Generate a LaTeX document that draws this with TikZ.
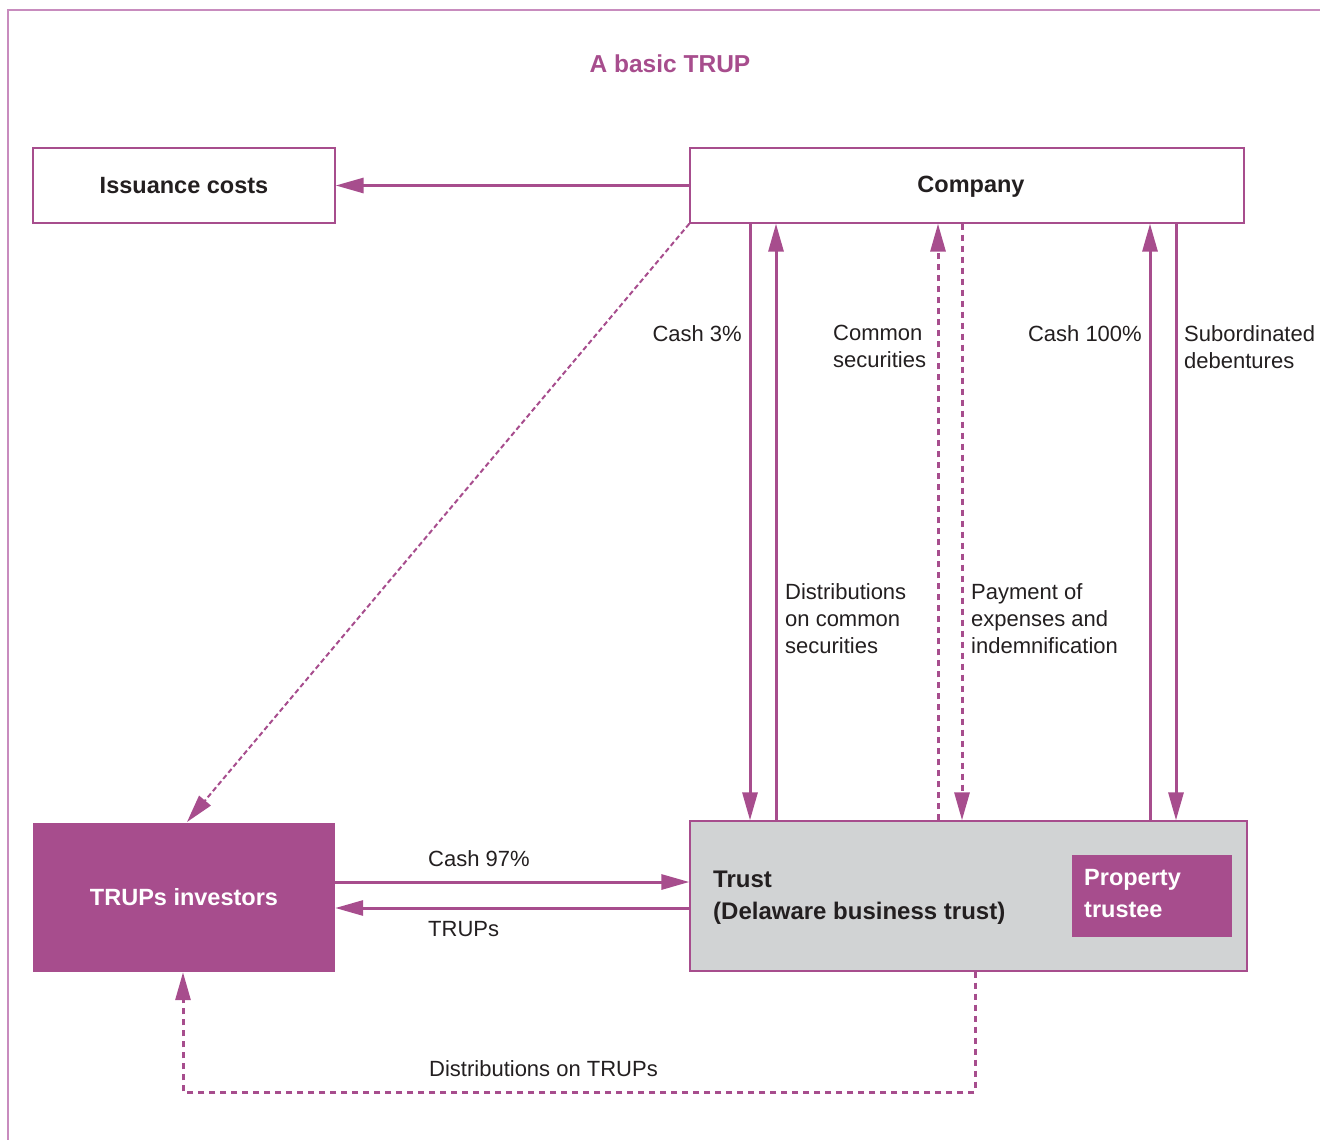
\documentclass[tikz,border=0pt]{standalone}
\usepackage{fontspec}
\setmainfont{Liberation Sans}
\usetikzlibrary{arrows.meta}
\definecolor{plum}{RGB}{167,77,141}
\definecolor{framec}{RGB}{200,140,190}
\definecolor{trustgray}{RGB}{209,211,212}
\definecolor{ink}{RGB}{35,31,32}
\tikzset{
  every node/.style={inner sep=0pt, text=ink},
  lbl/.style={font=\fontsize{22}{27}\selectfont, align=left},
  whitebox/.style={draw=plum, line width=1.3pt, fill=white, font=\bfseries\fontsize{23.5}{28}\selectfont},
  flow/.style={draw=plum, line width=3pt, -{Triangle[length=28pt,width=15pt]}},
  dflow/.style={flow, dash pattern=on 6pt off 5pt},
  diag/.style={draw=plum, line width=2pt, dash pattern=on 5pt off 3pt, -{Triangle[length=28pt,width=15pt]}},
}
\begin{document}
\begin{tikzpicture}[x=1pt,y=-1pt]
\useasboundingbox (0,0) rectangle (1320,1140);
% frame
\draw[framec, line width=2pt] (8,1140) -- (8,10) -- (1320,10);
% title
\node (title) at (670,64) {\textcolor{plum}{\bfseries\fontsize{24.5}{28}\selectfont A basic TRUP}};
% boxes
\node[whitebox, minimum width=302pt, minimum height=75pt] (issuance) at (184,185.5) {Issuance costs};
\node[whitebox, minimum width=554pt, minimum height=75pt] (company) at (967,185.5) {};
\node (companytext) at (971,187) {\bfseries\fontsize{23.5}{28}\selectfont Company};
\node[fill=plum, minimum width=302pt, minimum height=149pt, text=white, font=\bfseries\fontsize{23.5}{28}\selectfont] (investors) at (184,897.5) {TRUPs investors};
\node[draw=plum, line width=1.3pt, fill=trustgray, minimum width=557pt, minimum height=150pt] (trust) at (968.5,896) {};
\node[fill=plum, minimum width=160pt, minimum height=82pt] (property) at (1152,896) {};
\node[anchor=north west, text=white, align=left, font=\bfseries\fontsize{23.5}{32}\selectfont] (proptext) at (1084,869) {Property\\trustee};
\node[anchor=north west, align=left, font=\bfseries\fontsize{24}{32}\selectfont] (trusttext) at (713,871) {Trust\\(Delaware business trust)};
% connectors
\draw[flow] (company.west) -- (issuance.east);
\draw[diag] (company.south west) -- (187,822);
\draw[flow] (750,0 |- company.south) -- (750,0 |- trust.north);
\draw[flow] (776,0 |- trust.north) -- (776,0 |- company.south);
\draw[dflow] (938,0 |- trust.north) -- (938,0 |- company.south);
\draw[dflow] (962,0 |- company.south) -- (962,0 |- trust.north);
\draw[flow] (1150,0 |- trust.north) -- (1150,0 |- company.south);
\draw[flow] (1176,0 |- company.south) -- (1176,0 |- trust.north);
\draw[flow] (investors.east |- 0,882) -- (trust.west |- 0,882);
\draw[flow] (trust.west |- 0,908) -- (investors.east |- 0,908);
\coordinate (c1) at (975,1092);
\coordinate (c2) at (183,1092);
\draw[dflow] (975,0 |- trust.south) -- (c1) -- (c2) -- (183,0 |- investors.south);
% labels
\node[lbl, anchor=north east] (l1) at (742,325) {Cash 3\%};
\node[lbl, anchor=north west] (l2) at (833,325) {Common\\securities};
\node[lbl, anchor=north east] (l3) at (1142,325) {Cash 100\%};
\node[lbl, anchor=north west] (l4) at (1184,325) {Subordinated\\debentures};
\node[lbl, anchor=north west] (l5) at (785,583) {Distributions\\on common\\securities};
\node[lbl, anchor=north west] (l6) at (971,583) {Payment of\\expenses and\\indemnification};
\node[lbl, anchor=north west] (l7) at (428,850) {Cash 97\%};
\node[lbl, anchor=north west] (l8) at (428,921) {TRUPs};
\node[lbl, anchor=north west] (l9) at (429,1060) {Distributions on TRUPs};
\end{tikzpicture}
\end{document}
